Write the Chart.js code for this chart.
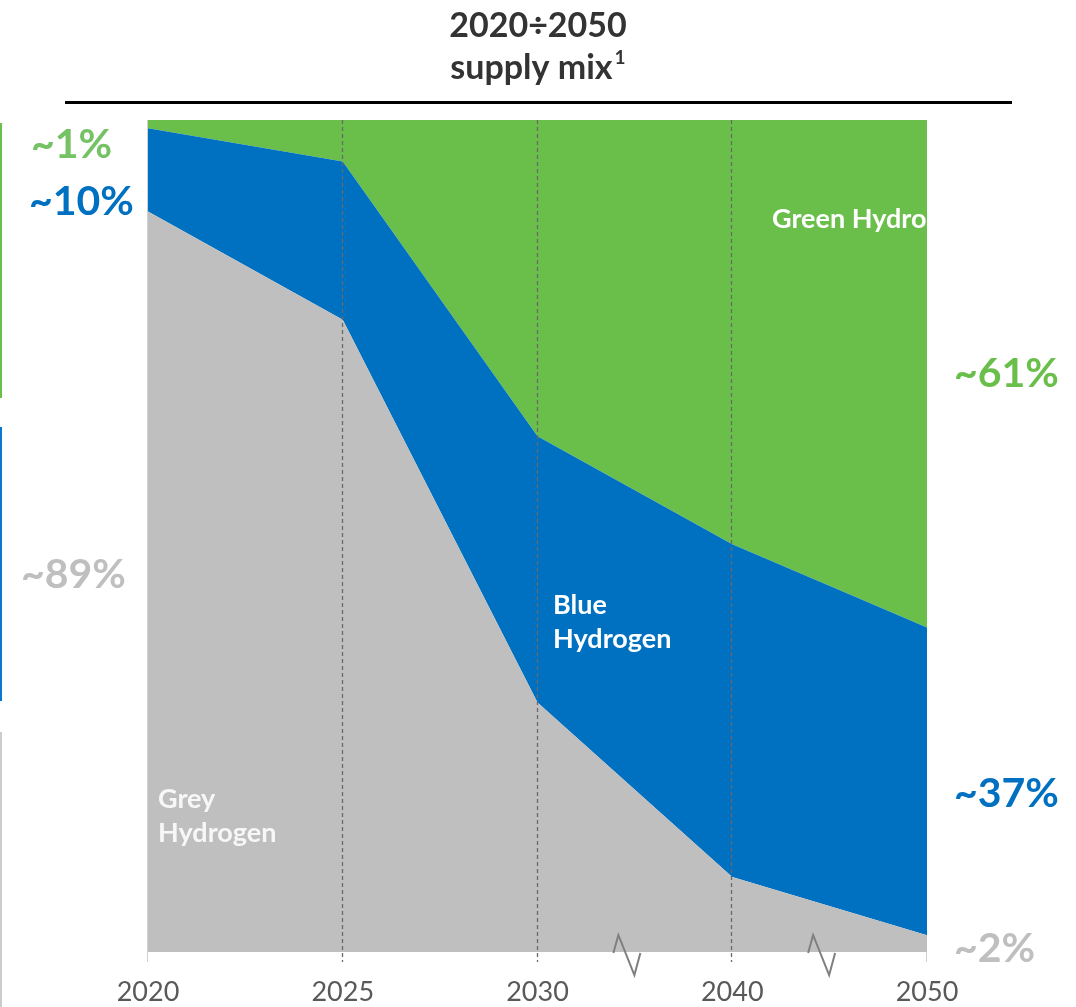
<!DOCTYPE html>
<html>
<head>
<meta charset="utf-8">
<script src="https://cdn.jsdelivr.net/npm/chart.js@4.4.1/dist/chart.umd.min.js"></script>
<style>
  html, body { margin: 0; padding: 0; background: #ffffff; }
  canvas { display: block; }
</style>
</head>
<body>
<canvas id="mix" width="1076" height="1007"></canvas>
<script>
// Hydrogen supply mix, share of total (%)
const years  = ['2020', '2025', '2030', '2040', '2050'];
const greyH  = [89, 76, 30, 9, 2];
const blueH  = [10, 19, 32, 40, 37];
const greenH = [1, 5, 38, 51, 61];

const titleLines = ['2020÷2050', 'supply mix'];
const titleSup = '1';
const seriesNames = { grey: ['Grey', 'Hydrogen'], blue: ['Blue', 'Hydrogen'], green: ['Green Hydrogen'] };

const COL = {
  grey: '#bfbfbf',
  blue: '#0070c0',
  green: '#6abf4b',
  tick: '#595959',
  title: '#333333'
};
const FONT = 'Lato, "Open Sans", sans-serif';

const pct = v => '~' + v + '%';

const decor = {
  id: 'decor',
  beforeDraw(chart) {
    const ctx = chart.ctx;
    ctx.save();
    ctx.fillStyle = '#ffffff';
    ctx.fillRect(0, 0, chart.width, chart.height);
    ctx.restore();
  },
  afterDatasetsDraw(chart) {
    const { ctx, chartArea: a, scales: { x } } = chart;
    const px = years.map((_, i) => x.getPixelForValue(i));
    ctx.save();

    // solid edge lines at the first and last year
    ctx.strokeStyle = '#d0d0d0';
    ctx.lineWidth = 1;
    ctx.beginPath();
    ctx.moveTo(Math.round(px[0]) - 0.5, a.top);
    ctx.lineTo(Math.round(px[0]) - 0.5, a.bottom + 10);
    ctx.moveTo(Math.round(px[4]) - 0.5, a.bottom);
    ctx.lineTo(Math.round(px[4]) - 0.5, a.bottom + 10);
    ctx.stroke();

    // dashed year markers
    ctx.strokeStyle = '#6a6a6a';
    ctx.lineWidth = 1.3;
    ctx.setLineDash([4, 3]);
    ctx.beginPath();
    for (let i = 1; i < px.length - 1; i++) {
      const xx = Math.round(px[i]) - 0.5;
      ctx.moveTo(xx, a.top);
      ctx.lineTo(xx, a.bottom + 10);
    }
    ctx.stroke();
    ctx.setLineDash([]);

    // axis break marks between uneven year steps
    ctx.strokeStyle = '#7f7f7f';
    ctx.lineWidth = 2;
    ctx.lineJoin = 'miter';
    [[2, 3], [3, 4]].forEach(([i, j]) => {
      const cx = (px[i] + px[j]) / 2 - 8;
      const b = a.bottom;
      ctx.beginPath();
      ctx.moveTo(cx - 13.5, b + 1);
      ctx.lineTo(cx - 8.5, b - 17);
      ctx.lineTo(cx + 7.5, b + 23);
      ctx.lineTo(cx + 13.5, b + 1);
      ctx.stroke();
    });

    // series names inside the areas
    ctx.beginPath();
    ctx.rect(a.left, a.top, a.right - a.left, a.bottom - a.top);
    ctx.clip();
    ctx.font = 'bold 27px ' + FONT;
    ctx.textAlign = 'left';
    ctx.textBaseline = 'alphabetic';
    ctx.fillStyle = '#ffffff';
    ctx.fillText(seriesNames.green[0], 772, 228);
    ctx.fillText(seriesNames.blue[0], 553, 614);
    ctx.fillText(seriesNames.blue[1], 553, 648);
    ctx.fillStyle = '#f7f7f7';
    ctx.fillText(seriesNames.grey[0], 158, 808);
    ctx.fillText(seriesNames.grey[1], 158, 842);
    ctx.restore();
  },
  afterDraw(chart) {
    const ctx = chart.ctx;
    ctx.save();

    // title
    ctx.fillStyle = COL.title;
    ctx.textBaseline = 'alphabetic';
    ctx.textAlign = 'left';
    ctx.font = 'bold 34px ' + FONT;
    const cx = 538;
    const w = ctx.measureText(titleLines[0]).width;
    ctx.fillText(titleLines[0], cx - w / 2, 37);
    const w1 = ctx.measureText(titleLines[1]).width;
    ctx.font = 'bold 19px ' + FONT;
    const w2 = ctx.measureText(titleSup).width;
    const sx = cx - (w1 + w2 + 2) / 2;
    ctx.font = 'bold 34px ' + FONT;
    ctx.fillText(titleLines[1], sx, 79);
    ctx.font = 'bold 19px ' + FONT;
    ctx.fillText(titleSup, sx + w1 + 2, 64);

    // rule under the title
    ctx.fillStyle = '#000000';
    ctx.fillRect(65, 101, 947, 3);

    // share labels at the start and end years
    ctx.font = 'bold 41px ' + FONT;
    ctx.fillStyle = '#74c264';
    ctx.fillText(pct(greenH[0]), 31, 158);
    ctx.fillStyle = COL.blue;
    ctx.fillText(pct(blueH[0]), 29, 215);
    ctx.fillStyle = COL.grey;
    ctx.fillText(pct(greyH[0]), 21, 588);
    ctx.fillStyle = COL.green;
    ctx.fillText(pct(greenH[4]), 954, 387);
    ctx.fillStyle = COL.blue;
    ctx.fillText(pct(blueH[4]), 954, 807);
    ctx.fillStyle = COL.grey;
    ctx.fillText(pct(greyH[4]), 954, 962);

    // coloured strips along the left margin
    ctx.fillStyle = COL.green;
    ctx.fillRect(0, 123, 2, 275);
    ctx.fillStyle = '#0a78d0';
    ctx.fillRect(0, 427, 2, 274);
    ctx.fillStyle = '#cccccc';
    ctx.fillRect(0, 732, 2, 275);
    ctx.restore();
  }
};

const area = (label, data, color, fill) => ({
  label, data, fill,
  backgroundColor: color,
  borderColor: color,
  borderWidth: 0,
  pointRadius: 0,
  pointHoverRadius: 0,
  tension: 0
});

new Chart(document.getElementById('mix'), {
  type: 'line',
  data: {
    labels: years,
    datasets: [
      area('Grey Hydrogen', greyH, COL.grey, 'origin'),
      area('Blue Hydrogen', blueH, COL.blue, '-1'),
      area('Green Hydrogen', greenH, COL.green, '-1')
    ]
  },
  options: {
    responsive: false,
    animation: false,
    layout: { padding: { left: 148, right: 149, top: 120, bottom: 0 } },
    plugins: { legend: { display: false }, tooltip: { enabled: false }, title: { display: false } },
    scales: {
      x: {
        grid: { display: false, drawTicks: false },
        border: { display: false },
        ticks: {
          color: COL.tick,
          font: { family: FONT, size: 27 },
          padding: 24,
          maxRotation: 0,
          autoSkip: false
        },
        afterFit: s => { s.height = 55; }
      },
      y: { display: false, stacked: true, min: 0, max: 100 }
    }
  },
  plugins: [decor]
});
</script>
</body>
</html>
